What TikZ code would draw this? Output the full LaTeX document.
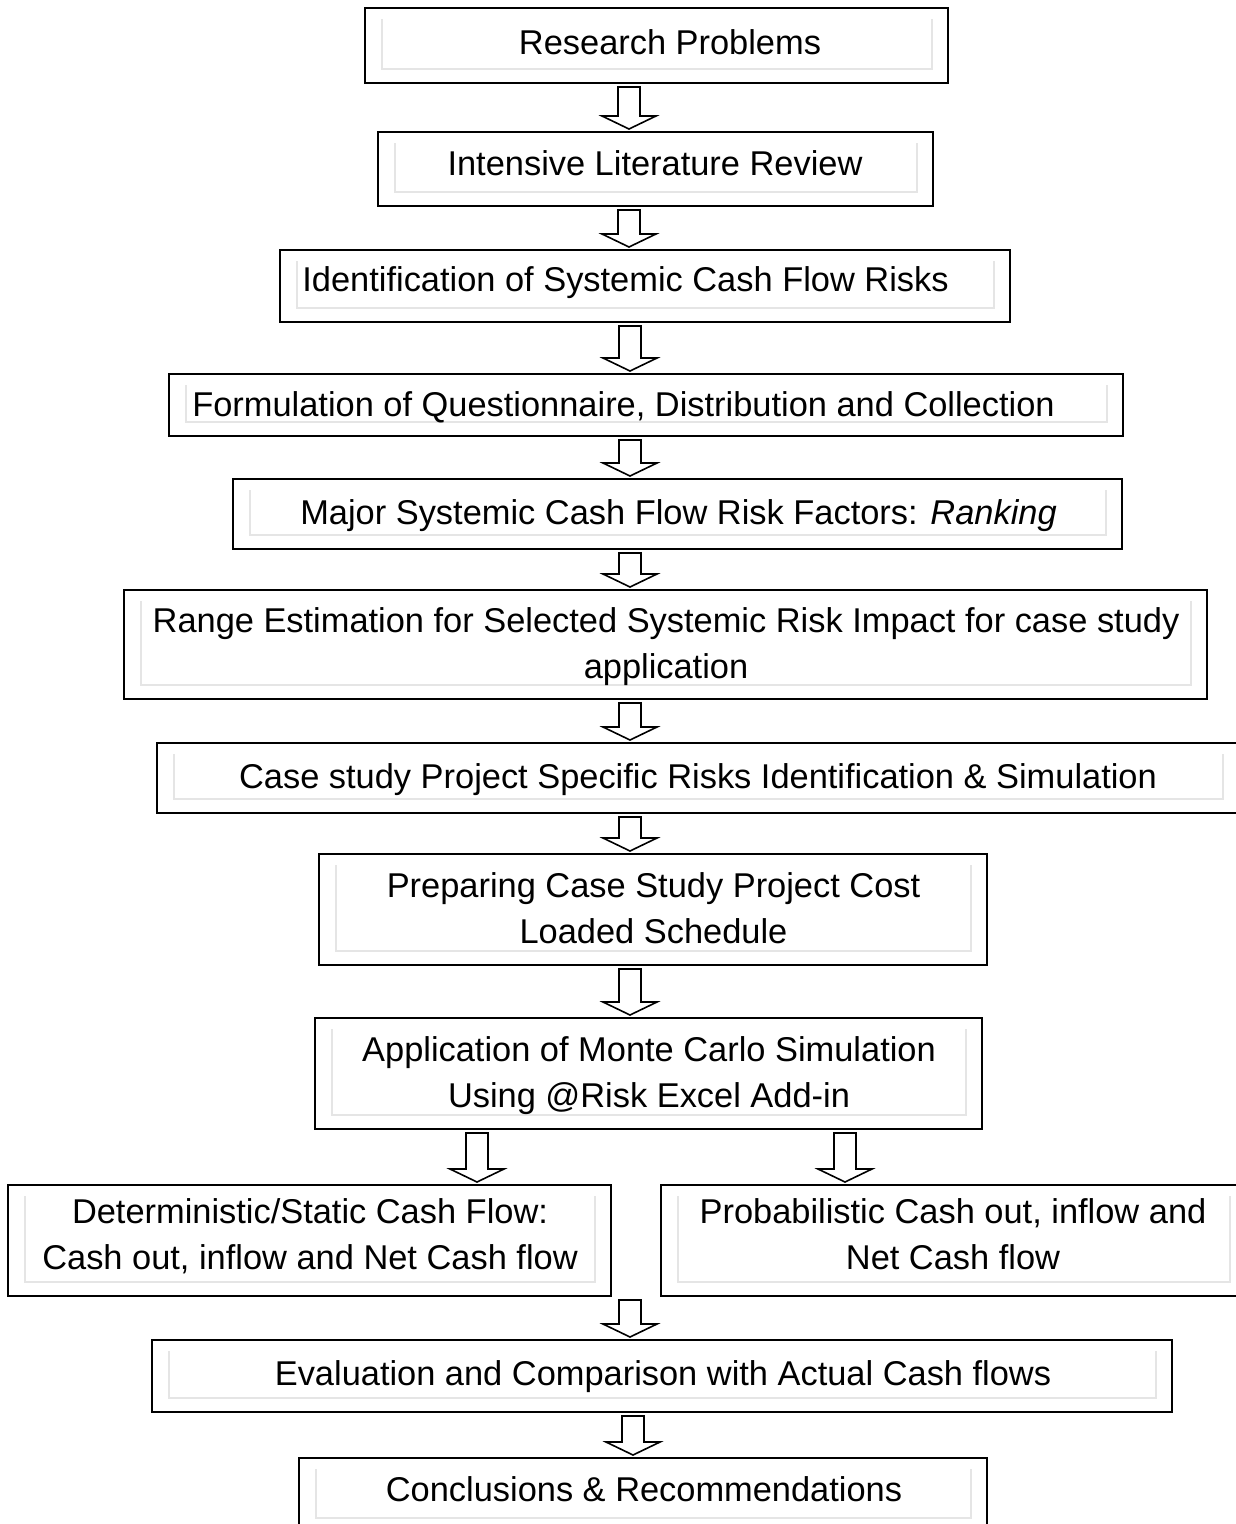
\documentclass[tikz,border=0pt]{standalone}
\usepackage{fontspec}
\setmainfont{Liberation Sans}
\usetikzlibrary{calc}
\tikzset{
  box/.style={draw=black, line width=2pt, rectangle, inner sep=0pt, outer sep=0pt},
  innerline/.style={draw=black!10, line width=1.3pt},
  txt/.style={font=\fontsize{34.4pt}{46pt}\selectfont, align=center, inner sep=0pt},
  harr/.style={draw=black, line width=1.6pt, fill=white, line join=miter},
}
% name, left, right, top, bottom (pixels, y downwards)
\newcommand\mkbox[5]{%
  \node[box, minimum width={#3-#2}, minimum height={#5-#4}] (#1) at ({(#2+#3)/2},{-(#4+#5)/2}) {};
  \draw[innerline] ($(#1.north west)+(17,-11)$) -- ($(#1.south west)+(17,14)$)
     -- ($(#1.south east)+(-16,14)$) -- ($(#1.north east)+(-16,-11)$);
}
% x, from node, to node
\newcommand\harrow[3]{%
  \draw[harr] let \p1=(#2.south), \p2=(#3.north) in
    (#1pt-11pt,\y1-4pt) -- (#1pt+11pt,\y1-4pt) -- (#1pt+11pt,\y2+16pt)
    -- (#1pt+27pt,\y2+16pt) -- (#1pt,\y2+3pt) -- (#1pt-27pt,\y2+16pt)
    -- (#1pt-11pt,\y2+16pt) -- cycle;
}
\begin{document}
\begin{tikzpicture}[x=1pt,y=1pt]
\useasboundingbox (0,0) rectangle (1236,-1524);
\clip (0,0) rectangle (1236,-1524);
\fill[white] (0,0) rectangle (1236,-1524);

\mkbox{b1}{365}{948}{8}{83}
\mkbox{b2}{378}{933}{132}{206}
\mkbox{b3}{280}{1010}{250}{322}
\mkbox{b4}{169}{1123}{374}{436}
\mkbox{b5}{233}{1122}{479}{549}
\mkbox{b6}{124}{1207}{590}{699}
\mkbox{b7}{157}{1239}{743}{813}
\mkbox{b8}{319}{987}{854}{965}
\mkbox{b9}{315}{982}{1018}{1129}
\mkbox{b10a}{8}{611}{1185}{1296}
\mkbox{b10b}{661}{1246}{1185}{1296}
\mkbox{b11}{152}{1172}{1340}{1412}
\mkbox{b12}{299}{987}{1458}{1532}

\node[txt, anchor=base] (t1) at (670,-54) {Research Problems};
\node[txt, anchor=base] (t2) at (655,-175) {Intensive Literature Review};
\node[txt, anchor=base] (t3) at (625.5,-291) {Identification of Systemic Cash Flow Risks};
\node[txt, anchor=base] (t4) at (623.5,-416) {Formulation of Questionnaire, Distribution and Collection};
\node[txt, anchor=base] (t5) at (678.5,-524) {Major Systemic Cash Flow Risk Factors: \textit{Ranking}};
\node[txt] (t6) at (666,-647) {Range Estimation for Selected Systemic Risk Impact for case study\\application};
\node[txt, anchor=base] (t7) at (698,-788) {Case study Project Specific Risks Identification \& Simulation};
\node[txt] (t8) at (653.5,-908) {Preparing Case Study Project Cost\\Loaded Schedule};
\node[txt] (t9) at (649,-1076) {Application of Monte Carlo Simulation\\Using @Risk Excel Add-in};
\node[txt] (t10a) at (310,-1236) {Deterministic/Static Cash Flow:\\Cash out, inflow and Net Cash flow};
\node[txt] (t10b) at (953,-1234.5) {Probabilistic Cash out, inflow and\\Net Cash flow};
\node[txt, anchor=base] (t11) at (663,-1385) {Evaluation and Comparison with Actual Cash flows};
\node[txt, anchor=base] (t12) at (644,-1501) {Conclusions \& Recommendations};

\harrow{629}{b1}{b2}
\harrow{629}{b2}{b3}
\harrow{630}{b3}{b4}
\harrow{630}{b4}{b5}
\harrow{630}{b5}{b6}
\harrow{630}{b6}{b7}
\harrow{630}{b7}{b8}
\harrow{630}{b8}{b9}
\harrow{477}{b9}{b10a}
\harrow{845}{b9}{b10b}
\harrow{630}{b10a}{b11}
\harrow{633}{b11}{b12}
\end{tikzpicture}
\end{document}
